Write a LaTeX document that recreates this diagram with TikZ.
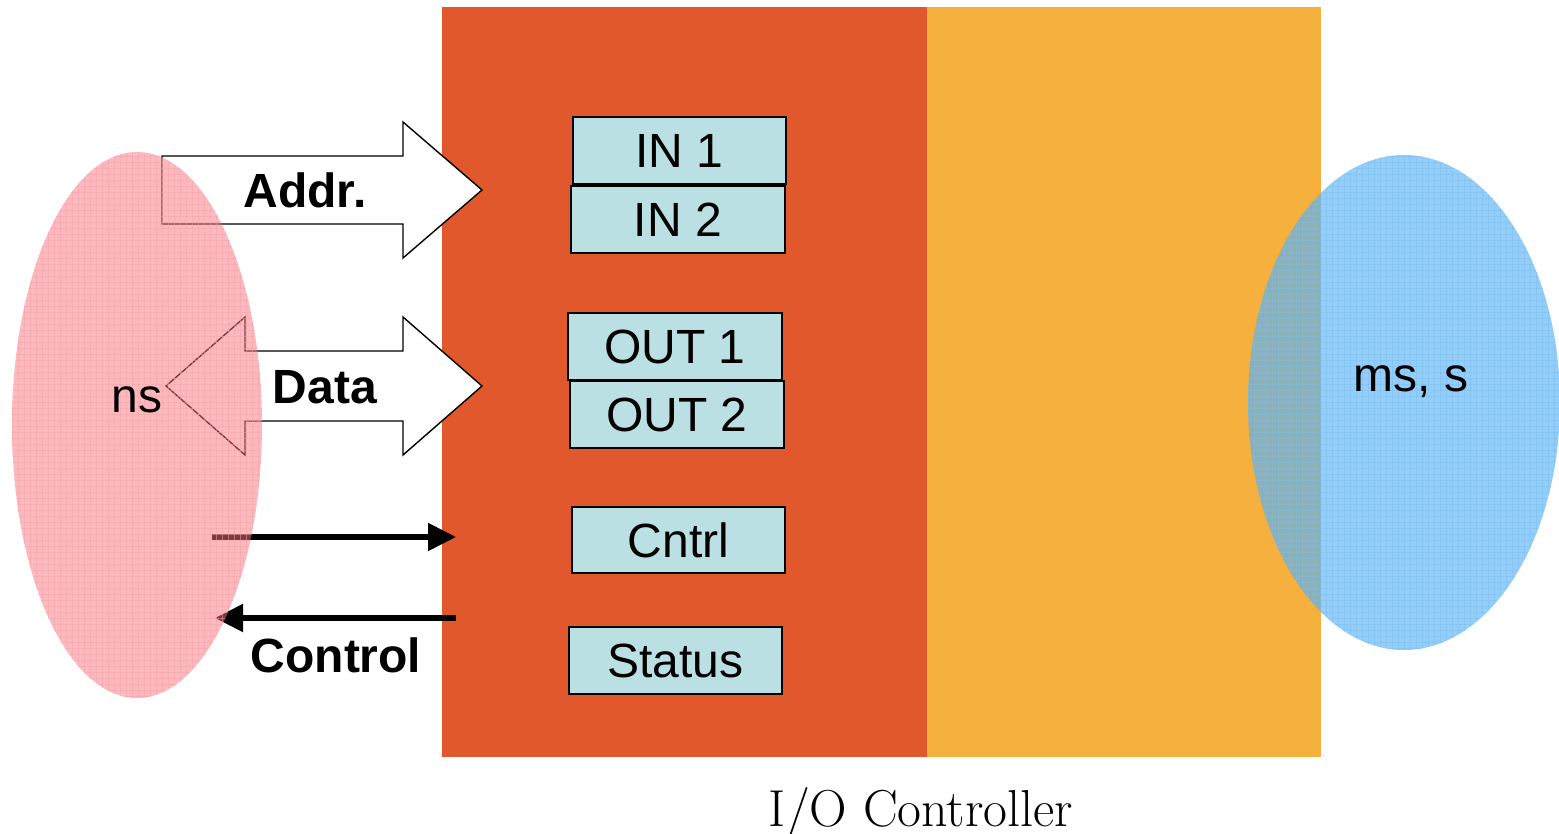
\documentclass[tikz,border=0pt]{standalone}
\usepackage{fontspec}
\setmainfont{Latin Modern Roman}
\newfontfamily\arialf{Liberation Sans}
\usetikzlibrary{shapes.geometric,arrows.meta,patterns}
\definecolor{ioRed}{RGB}{224,88,44}
\definecolor{ioOrange}{RGB}{246,176,62}
\definecolor{regBlue}{RGB}{187,224,227}
\definecolor{nsPink}{RGB}{245,120,130}
\definecolor{msBlue}{RGB}{85,175,240}
\tikzset{
  reg/.style={draw=black, line width=1pt, fill=regBlue, rectangle, inner sep=0pt,
    font=\arialf\fontsize{24}{28}\selectfont},
  lbl/.style={font=\arialf\fontsize{24}{28}\selectfont, inner sep=0pt, anchor=base},
  blbl/.style={font=\arialf\bfseries\fontsize{24}{28}\selectfont, inner sep=0pt, anchor=base},
  busarrow/.style={draw=black, line width=0.7pt, fill=white, line join=miter},
  sig/.style={line width=2.6pt, -{Triangle[length=14pt,width=13.5pt]}},
  cloud/.style={ellipse, draw=none, inner sep=0pt},
}
\begin{document}
\begin{tikzpicture}[x=0.5pt,y=-0.5pt]
\useasboundingbox (0,0) rectangle (1559,834);
\clip (0,0) rectangle (1559,834);
% controller halves
\fill[ioRed] (442,7) rectangle (927,757);
\fill[ioOrange] (927,7) rectangle (1321,757);
% registers
\node[reg, minimum width=106.5pt, minimum height=33.5pt] (in1) at (679.5,150.5) {IN 1};
\node[reg, minimum width=107pt, minimum height=33.5pt] (in2) at (678,219.5) {IN 2};
\node[reg, minimum width=107pt, minimum height=33.5pt] (out1) at (675,346.5) {OUT 1};
\node[reg, minimum width=107pt, minimum height=33.5pt] (out2) at (677,414.5) {OUT 2};
\node[reg, minimum width=106.5pt, minimum height=33pt] (cntrl) at (678.5,540) {Cntrl};
\node[reg, minimum width=106.5pt, minimum height=33.5pt] (status) at (675.5,660.5) {Status};
% address bus arrow
\draw[busarrow] (162,156) -- (403,156) -- (403,122) -- (482,190) -- (403,258)
  -- (403,224) -- (162,224) -- cycle;
% data bus double arrow
\draw[busarrow] (166,386) -- (245,317) -- (245,351) -- (403,351) -- (403,317)
  -- (482,386) -- (403,455) -- (403,421) -- (245,421) -- (245,455) -- cycle;
% control signals
\coordinate (cs1) at (212,537);
\coordinate (ce1) at (456,537);
\coordinate (cs2) at (456,618);
\coordinate (ce2) at (215,618);
\draw[sig] (cs1) -- (ce1);
\draw[sig] (cs2) -- (ce2);
% clouds
\node[cloud, fill=nsPink, fill opacity=0.5, minimum width=125pt, minimum height=273pt] (nsE) at (137,425) {};
\node[cloud, pattern=grid, pattern color=nsPink!70!white, opacity=0.5, minimum width=125pt, minimum height=273pt] (nsG) at (137,425) {};
\node[cloud, fill=msBlue, fill opacity=0.62, minimum width=156pt, minimum height=247.5pt] (msE) at (1404,402.5) {};
\node[cloud, pattern=grid, pattern color=msBlue!80!white, opacity=0.5, minimum width=156pt, minimum height=247.5pt] (msG) at (1404,402.5) {};
% labels
\node[blbl] (addr) at (305,208) {Addr.};
\node[blbl] (data) at (325,403) {Data};
\node[blbl] (control) at (336,672) {Control};
\node[lbl] (ns) at (137,413) {ns};
\node[lbl] (ms) at (1411,392) {ms, s};
\node[inner sep=0pt, anchor=base, font=\fontsize{26}{30}\selectfont] (ioc) at (921,826) {I/O Controller};
\end{tikzpicture}
\end{document}
